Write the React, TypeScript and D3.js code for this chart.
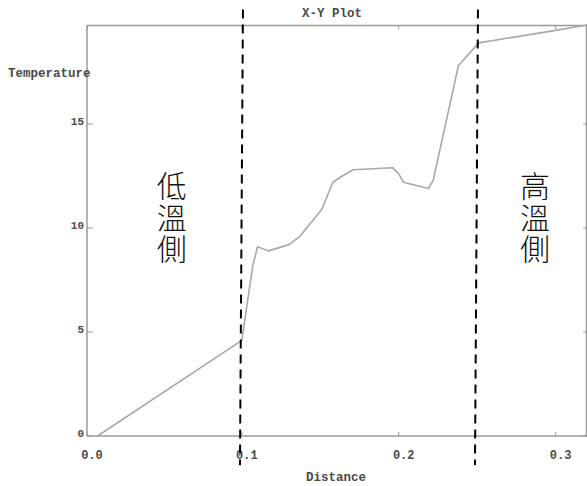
import React from "react";
import * as d3 from "d3";

// Temperature profile along the distance axis
const distance = [0.008, 0.1, 0.107, 0.11, 0.117, 0.13, 0.137, 0.151, 0.158, 0.164, 0.171, 0.196, 0.2, 0.203, 0.219, 0.222, 0.238, 0.251, 0.3, 0.32];
const temperature = [0, 4.6, 8.2, 9.1, 8.9, 9.2, 9.6, 10.9, 12.2, 12.5, 12.8, 12.9, 12.6, 12.2, 11.9, 12.3, 17.8, 18.9, 19.5, 19.76];

const xTicks = [0, 0.1, 0.2, 0.3];
const xTickLabels = ["0.0", "0.1", "0.2", "0.3"];
const yTicks = [0, 5, 10, 15];
const yTickLabels = ["0", "5", "10", "15"];

// Zone boundaries (dashed markers): [distance at top, distance at bottom]
const boundaryTop = [0.1007, 0.2505];
const boundaryBottom = [0.0988, 0.2486];
const boundarySpan = [20.5, -1.4];

// Zone captions, set vertically starting from the given temperature
const zoneLabels = ["低溫側", "高溫側"];
const zoneCenters = [0.0553, 0.2869];
const zoneTops = [12.75, 12.75];

const W = 587;
const H = 486;
const mono = "'Liberation Mono', 'DejaVu Sans Mono', monospace";

export default function App() {
  const x = d3.scaleLinear().domain([0.0013, 0.32]).range([87, 587]).clamp(true);
  const y = d3.scaleLinear().domain([0, 19.74]).range([436, 25.4]);
  const pts: [number, number][] = distance.map((d, i) => [d, temperature[i]]);
  const line = d3
    .line<[number, number]>()
    .x((p) => x(p[0]))
    .y((p) => y(p[1]));

  const axisColor = "#9a9a9a";
  const textColor = "#4a4a4a";
  const left = x.range()[0];
  const right = x.range()[1];
  const top = y.range()[1];
  const bottom = y.range()[0];

  return (
    <svg
      width={W}
      height={H}
      style={{ position: "absolute", left: 0, top: 0, background: "#fff" }}
    >
      <rect x={0} y={0} width={W} height={H} fill="#fff" />
      {/* frame */}
      <line x1={left} x2={right} y1={top} y2={top} stroke={axisColor} strokeWidth={1.5} />
      <line x1={left} x2={right} y1={bottom} y2={bottom} stroke={axisColor} strokeWidth={1.5} />
      <line x1={left} x2={left} y1={top} y2={bottom} stroke={axisColor} strokeWidth={1.5} />
      <line x1={right - 0.5} x2={right - 0.5} y1={top} y2={bottom} stroke={axisColor} strokeWidth={1.5} />

      {/* x ticks */}
      {xTicks.map((t, i) => (
        <g key={"xt" + i}>
          <line x1={x(t)} x2={x(t)} y1={bottom} y2={bottom - 4} stroke={axisColor} strokeWidth={1} />
          <line x1={x(t)} x2={x(t)} y1={top} y2={top + 4} stroke={axisColor} strokeWidth={1} />
          <text
            x={x(t) + 5}
            y={bottom + 23}
            textAnchor="middle"
            fontFamily={mono}
            fontWeight="bold"
            fontSize={12}
            fill={textColor}
          >
            {xTickLabels[i]}
          </text>
        </g>
      ))}

      {/* y ticks */}
      {yTicks.map((t, i) => (
        <g key={"yt" + i}>
          <line x1={left} x2={left + 6} y1={y(t)} y2={y(t)} stroke={axisColor} strokeWidth={1} />
          <line x1={right} x2={right - 4} y1={y(t)} y2={y(t)} stroke={axisColor} strokeWidth={1} />
          <text
            x={left - 3}
            y={y(t) + 1}
            textAnchor="end"
            fontFamily={mono}
            fontWeight="bold"
            fontSize={11}
            fill={textColor}
          >
            {yTickLabels[i]}
          </text>
        </g>
      ))}

      {/* titles */}
      <text x={332} y={17} textAnchor="middle" fontFamily={mono} fontWeight="bold" fontSize={12.5} fill={textColor}>
        X-Y Plot
      </text>
      <text x={8} y={77} fontFamily={mono} fontWeight="bold" fontSize={12.5} fill={textColor}>
        Temperature
      </text>
      <text x={336} y={481} textAnchor="middle" fontFamily={mono} fontWeight="bold" fontSize={12.5} fill={textColor}>
        Distance
      </text>

      {/* data curve */}
      <path d={line(pts) ?? ""} fill="none" stroke="#a8a8a8" strokeWidth={1.6} strokeLinejoin="round" />

      {/* zone boundaries */}
      {boundaryTop.map((d, i) => (
        <line
          key={"b" + i}
          x1={x(d)}
          y1={y(boundarySpan[0])}
          x2={x(boundaryBottom[i])}
          y2={y(boundarySpan[1])}
          stroke="#000"
          strokeWidth={2}
          strokeDasharray="9,6"
        />
      ))}

      {/* zone captions */}
      {zoneLabels.map((lab, i) => (
        <text
          key={"z" + i}
          x={x(zoneCenters[i])}
          y={y(zoneTops[i])}
          fontFamily="'Noto Sans CJK TC', 'Noto Sans CJK SC', sans-serif"
          fontWeight={300}
          fontSize={30}
          letterSpacing={1.5}
          fill="#111"
          style={{ writingMode: "vertical-rl" }}
        >
          {lab}
        </text>
      ))}
    </svg>
  );
}
